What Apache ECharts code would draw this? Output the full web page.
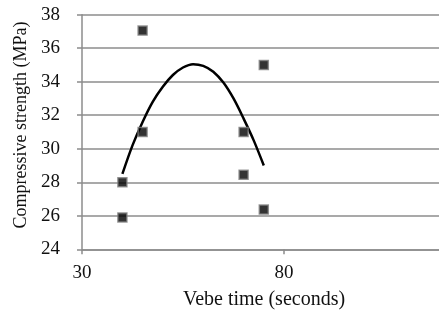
<!DOCTYPE html>
<html><head><meta charset="utf-8">
<script src="https://cdn.jsdelivr.net/npm/echarts@6/dist/echarts.min.js"></script>
<style>html,body{margin:0;padding:0;background:#fff}#c{width:439px;height:310px}</style>
</head><body><div id="c"></div>
<script>
// Measured data points: [Vebe time (s), Compressive strength (MPa)]
var pointsX = [45, 45, 40, 40, 75, 70, 70, 75];
var pointsY = [37.05, 31, 28, 25.9, 35, 31, 28.45, 26.37];
// Polynomial trendline
var trendX = [40, 42.5, 45, 47.5, 50, 52.5, 55, 57.5, 60, 62.5, 65, 67.5, 70, 72.5, 75];
var trendY = [28.5, 30.2, 31.6, 32.8, 33.7, 34.4, 34.85, 35.05, 34.95, 34.6, 33.95, 33.0, 31.8, 30.5, 29.0];
var xTicks = [30, 80, 130];
var yMin = 24, yMax = 38, yStep = 2;

var chart = echarts.init(document.getElementById('c'), null, {renderer: 'canvas'});
var font = 'Liberation Serif';
chart.setOption({
  animation: false,
  backgroundColor: '#fff',
  grid: {left: 82, width: 404, top: 14.7, bottom: 60.7, containLabel: false, outerBoundsMode: 'none'},
  xAxis: {
    type: 'value', min: xTicks[0], max: xTicks[xTicks.length - 1], interval: xTicks[1] - xTicks[0],
    name: 'Vebe time (seconds)', nameLocation: 'middle', nameGap: 40,
    nameTextStyle: {fontFamily: font, fontSize: 20, color: '#111', padding: [0, 40, 0, 0]},
    axisLine: {onZero: false, lineStyle: {color: '#8c8c8c', width: 1.5}},
    axisTick: {show: true, length: 5, lineStyle: {color: '#8c8c8c', width: 1.5}},
    axisLabel: {fontFamily: font, fontSize: 19, color: '#111', margin: 14},
    splitLine: {show: false}
  },
  yAxis: {
    type: 'value', min: yMin, max: yMax, interval: yStep,
    name: 'Compressive strength (MPa)', nameLocation: 'middle', nameGap: 49,
    nameTextStyle: {fontFamily: font, fontSize: 18, color: '#111', padding: [0, 0, 0, 14]},
    axisLine: {show: true, lineStyle: {color: '#8c8c8c', width: 1.5}},
    axisTick: {show: true, length: 5, lineStyle: {color: '#8c8c8c', width: 1.5}},
    axisLabel: {fontFamily: font, fontSize: 19, color: '#111', margin: 22},
    splitLine: {show: true, lineStyle: {color: '#8c8c8c', width: 1.5}}
  },
  series: [
    {
      type: 'line', smooth: 0.3, showSymbol: false, z: 3,
      data: trendX.map(function (x, i) { return [x, trendY[i]]; }),
      lineStyle: {color: '#000', width: 2.5}
    },
    {
      type: 'scatter', symbol: 'rect', symbolSize: 9, z: 4,
      data: pointsX.map(function (x, i) { return [x, pointsY[i]]; }),
      itemStyle: {color: '#000', borderColor: '#808080', borderWidth: 1.5}
    }
  ]
});
</script></body></html>
